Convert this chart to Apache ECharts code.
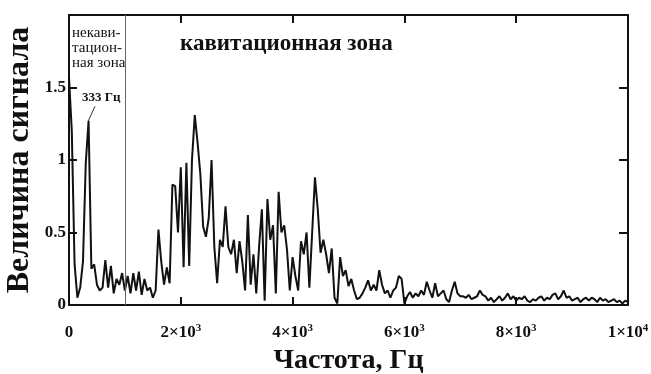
<!DOCTYPE html>
<html>
<head>
<meta charset="utf-8">
<script src="https://cdn.jsdelivr.net/npm/echarts@6/dist/echarts.min.js"></script>
<style>
html, body { margin: 0; padding: 0; background: #fff; }
#main { width: 651px; height: 374px; }
</style>
</head>
<body>
<div id="main"></div>
<script>
// spectrum sampled every 50 Hz, one array per kHz band
const freqStep = 50;
const amp0to1k = [1.57, 1.20, 0.28, 0.05, 0.12, 0.30, 0.98, 1.27, 0.25, 0.28, 0.14,
                  0.10, 0.12, 0.31, 0.12, 0.27, 0.08, 0.18, 0.14, 0.22, 0.10];
const amp1to2k = [0.20, 0.08, 0.22, 0.10, 0.23, 0.07, 0.18, 0.10, 0.12, 0.05,
                  0.10, 0.52, 0.30, 0.14, 0.26, 0.15, 0.83, 0.82, 0.50, 0.95];
const amp2to3k = [0.26, 0.98, 0.27, 1.00, 1.31, 1.12, 0.90, 0.54, 0.47, 0.60,
                  1.00, 0.40, 0.15, 0.45, 0.40, 0.68, 0.40, 0.35, 0.45, 0.22];
const amp3to4k = [0.44, 0.30, 0.10, 0.62, 0.14, 0.35, 0.08, 0.40, 0.66, 0.03,
                  0.73, 0.45, 0.55, 0.08, 0.78, 0.50, 0.55, 0.38, 0.10, 0.33];
const amp4to5k = [0.20, 0.10, 0.44, 0.35, 0.50, 0.12, 0.50, 0.88, 0.66, 0.36,
                  0.45, 0.35, 0.22, 0.39, 0.05, 0.01, 0.33, 0.20, 0.24, 0.13];
const amp5to6k = [0.18, 0.10, 0.04, 0.05, 0.08, 0.12, 0.17, 0.10, 0.14, 0.10,
                  0.24, 0.14, 0.08, 0.10, 0.05, 0.10, 0.12, 0.20, 0.18, 0.01];
const amp6to7k = [0.06, 0.09, 0.05, 0.08, 0.06, 0.10, 0.07, 0.16, 0.10, 0.05,
                  0.15, 0.06, 0.08, 0.10, 0.04, 0.02, 0.10, 0.16, 0.08, 0.06];
const amp7to8k = [0.06, 0.05, 0.07, 0.04, 0.05, 0.06, 0.10, 0.07, 0.06, 0.03,
                  0.05, 0.02, 0.04, 0.06, 0.03, 0.05, 0.08, 0.04, 0.06, 0.03];
const amp8to9k = [0.05, 0.04, 0.06, 0.03, 0.02, 0.04, 0.03, 0.05, 0.06, 0.03,
                  0.05, 0.04, 0.07, 0.08, 0.04, 0.06, 0.10, 0.05, 0.06, 0.03];
const amp9to10k = [0.04, 0.05, 0.02, 0.04, 0.05, 0.03, 0.05, 0.04, 0.02, 0.05,
                   0.03, 0.04, 0.02, 0.03, 0.04, 0.02, 0.03, 0.01, 0.03, 0.02];

const zoneBoundary = 1000;       // Hz, non-cavitation / cavitation
const peakLeader = [[465, 1.37], [345, 1.27]];
const yLabels = ['0', '0.5', '1', '1.5'];

const amplitude = [].concat(amp0to1k, amp1to2k, amp2to3k, amp3to4k, amp4to5k,
  amp5to6k, amp6to7k, amp7to8k, amp8to9k, amp9to10k);
const seriesData = amplitude.map((a, i) => [i * freqStep, a]);

const serif = "'Liberation Serif', 'Times New Roman', serif";
const frame = { color: '#111', width: 2 };

const chart = echarts.init(document.getElementById('main'));

chart.setOption({
  animation: false,
  backgroundColor: '#fff',
  grid: { left: 69, right: 23, top: 15, bottom: 69, outerBoundsMode: 'none', containLabel: false },
  xAxis: [
    {
      type: 'value', min: 0, max: 10000, interval: 2000,
      name: 'Частота, Гц', nameLocation: 'middle', nameGap: 41,
      nameTextStyle: { fontFamily: serif, fontWeight: 'bold', fontSize: 28, color: '#111' },
      axisLine: { onZero: false, lineStyle: frame },
      axisTick: { inside: true, length: 8, lineStyle: frame },
      splitLine: { show: false },
      axisLabel: {
        margin: 18, color: '#111',
        formatter: function (v) {
          if (v === 0) return '{b|0}';
          if (v === 10000) return '{b|1×10}{s|4}';
          return '{b|' + (v / 1000) + '×10}{s|3}';
        },
        rich: {
          b: { fontFamily: serif, fontWeight: 'bold', fontSize: 17, lineHeight: 20, color: '#111' },
          s: { fontFamily: serif, fontWeight: 'bold', fontSize: 11, verticalAlign: 'top', lineHeight: 20, color: '#111' }
        }
      }
    },
    {
      type: 'value', position: 'top', min: 0, max: 10000, interval: 2000,
      axisLine: { show: true, onZero: false, lineStyle: frame },
      axisTick: { show: true, inside: true, length: 8, lineStyle: frame },
      axisLabel: { show: false },
      splitLine: { show: false }
    }
  ],
  yAxis: [
    {
      type: 'value', min: 0, max: 2, interval: 0.5,
      name: 'Величина сигнала', nameLocation: 'middle', nameGap: 33, nameRotate: 90,
      nameMoveOverlap: false,
      nameTextStyle: { fontFamily: serif, fontWeight: 'bold', fontSize: 32, color: '#111' },
      axisLine: { show: true, onZero: false, lineStyle: frame },
      axisTick: { show: true, inside: true, length: 8, lineStyle: frame },
      splitLine: { show: false },
      axisLabel: {
        margin: 3, fontFamily: serif, fontWeight: 'bold', fontSize: 17, color: '#111',
        formatter: function (v) {
          const i = Math.round(v / 0.5);
          return i < yLabels.length ? yLabels[i] : '';
        }
      }
    },
    {
      type: 'value', position: 'right', min: 0, max: 2, interval: 0.5,
      axisLine: { show: true, onZero: false, lineStyle: frame },
      axisTick: { show: true, inside: true, length: 9, lineStyle: frame },
      axisLabel: { show: false },
      splitLine: { show: false }
    }
  ],
  series: [
    {
      type: 'line',
      data: seriesData,
      showSymbol: false,
      lineStyle: { color: '#111', width: 2 },
      markLine: {
        silent: true,
        symbol: 'none',
        label: { show: false },
        data: [
          { xAxis: zoneBoundary, lineStyle: { color: '#666', width: 1, type: 'solid' } },
          [
            { coord: peakLeader[0], lineStyle: { color: '#333', width: 1, type: 'solid' } },
            { coord: peakLeader[1] }
          ]
        ]
      }
    }
  ],
  graphic: [
    {
      type: 'text', left: 72, top: 26,
      style: {
        text: 'некави-\nтацион-\nная зона',
        font: "15px 'Liberation Serif', serif",
        lineHeight: 15, fill: '#111'
      }
    },
    {
      type: 'text', left: 180, top: 33,
      style: {
        text: 'кавитационная зона',
        font: "bold 23px 'Liberation Serif', serif",
        fill: '#111'
      }
    },
    {
      type: 'text', left: 82, top: 91,
      style: {
        text: '333 Гц',
        font: "bold 13px 'Liberation Serif', serif",
        fill: '#111'
      }
    }
  ]
});
</script>
</body>
</html>
